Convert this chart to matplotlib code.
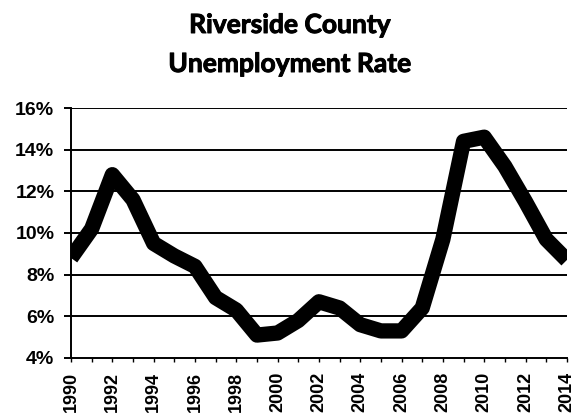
import matplotlib.pyplot as plt
import matplotlib.patheffects as pe
from matplotlib.ticker import FuncFormatter

years = list(range(1990, 2015))
rate = [8.8, 10.2, 12.8, 11.6, 9.5, 8.9, 8.4, 6.9, 6.3, 5.1, 5.2,
        5.8, 6.7, 6.4, 5.6, 5.3, 5.3, 6.4, 9.7, 14.4, 14.6, 13.2, 11.5, 9.7, 8.7]
y_ticks = [4, 6, 8, 10, 12, 14, 16]
x_labels = list(range(1990, 2015, 2))
title_lines = ["Riverside County", "Unemployment Rate"]

fig = plt.figure(figsize=(5.79, 4.17), dpi=100, facecolor="white")
ax = fig.add_axes([0.1226, 0.1415, 0.8564, 0.5995])

for y in y_ticks[1:]:
    ax.axhline(y, color="black", linewidth=1.4, zorder=1)

ax.plot(years, rate, color="black", linewidth=11, solid_joinstyle="round",
        solid_capstyle="butt", zorder=3)

ax.set_xlim(1990, 2014)
ax.set_ylim(4, 16)
ax.set_yticks(y_ticks)
ax.yaxis.set_major_formatter(FuncFormatter(lambda v, _: f"{v:.0f}%"))
ax.set_xticks(x_labels)
ax.set_xticks(years, minor=True)
ax.set_xticklabels([str(y) for y in x_labels], rotation=90)

for side in ("top", "right"):
    ax.spines[side].set_visible(False)
ax.spines["left"].set_linewidth(1.4)
ax.spines["bottom"].set_linewidth(1.4)

ax.tick_params(axis="y", length=5, width=1.4, pad=7, labelsize=14)
ax.tick_params(axis="x", which="both", length=3, width=1, direction="out", pad=7, labelsize=13)
for lbl in ax.get_xticklabels() + ax.get_yticklabels():
    lbl.set_fontfamily("Liberation Sans")
    lbl.set_fontweight("bold")

# a thin stroke makes Lato bold look closer to the heavier original title
thicken = [pe.withStroke(linewidth=0.7, foreground="black")]
for i, line in enumerate(title_lines):
    fig.text(0.5, 1 - (33 + 39 * i) / 417, line, ha="center", va="baseline",
             fontsize=19, fontweight="bold", family="Lato", path_effects=thicken)

fig.savefig("out.png", dpi=100)
